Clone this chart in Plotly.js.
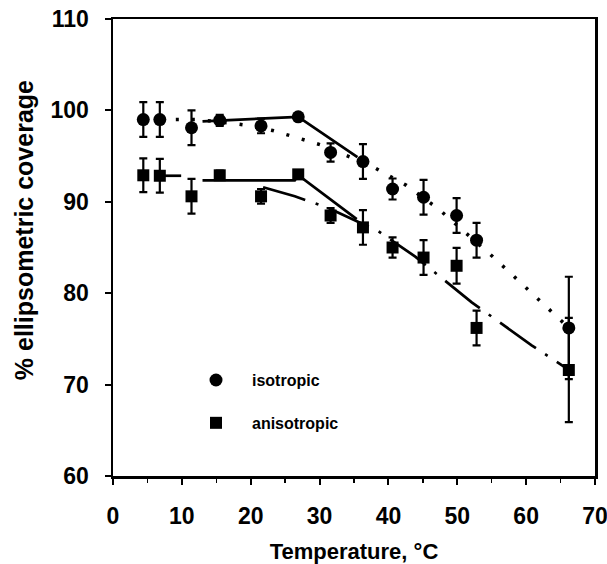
<!DOCTYPE html>
<html>
<head>
<meta charset="utf-8">
<script src="https://cdn.plot.ly/plotly-3.0.1.min.js"></script>
<style>html,body{margin:0;padding:0;background:#fff;}#chart{width:607px;height:564px;}</style>
</head>
<body>
<div id="chart"></div>
<script>
// Temperatures (°C)
const temps = [4.4, 6.8, 11.4, 15.5, 21.5, 26.9, 31.6, 36.3, 40.6, 45.1, 49.9, 52.8, 66.2];
// isotropic coverage (%) and error
const isoValues = [99.0, 99.0, 98.1, 98.9, 98.3, 99.3, 95.4, 94.4, 91.4, 90.5, 88.5, 85.8, 76.2];
const isoErrors = [1.9, 1.9, 1.9, 0.6, 0.8, 0, 1.0, 1.9, 1.15, 1.9, 1.9, 1.9, 5.6];
// anisotropic coverage (%) and error
const aniValues = [92.9, 92.85, 90.6, 92.9, 90.6, 93.0, 88.5, 87.2, 85.0, 83.9, 83.0, 76.2, 71.6];
const aniErrors = [1.85, 1.85, 1.9, 0.5, 0.8, 0, 0.8, 1.9, 1.1, 1.9, 1.95, 1.9, 5.7];

// fitted lines
const isoSolidT = [13.0, 26.9, 35.5];
const isoSolidV = [98.8, 99.3, 94.9];
const isoDotT = [6.8, 12.0, 17.2, 19.1, 23.2, 26.9, 30.3, 37.6, 42.6, 47.3, 55.3, 63.8, 66.2];
const isoDotV = [99.0, 99.0, 98.6, 98.4, 97.8, 97.0, 96.2, 93.9, 91.8, 89.2, 83.9, 77.9, 76.2];
const aniSolidT = [6.8, 9.9, null, 13.0, 26.4, 26.9, 35.4];
const aniSolidV = [92.85, 92.85, null, 92.35, 92.35, 92.9, 88.1];
const aniDashT = [21.8, 26.4, 31.0, 38.5, 43.9, 46.8, 52.1, 60.8, 66.2];
const aniDashV = [91.6, 90.6, 89.4, 86.8, 84.0, 82.2, 79.0, 74.3, 71.6];

const seriesNames = ['isotropic', 'anisotropic'];
const xTicks = [0, 10, 20, 30, 40, 50, 60, 70];
const yTicks = [60, 70, 80, 90, 100, 110];
const xTitle = 'Temperature, °C';
const yTitle = '% ellipsometric coverage';

const FONT = 'Liberation Sans, Arial, sans-serif';

const traces = [
  {x: isoDotT, y: isoDotV, mode: 'lines', showlegend: false, hoverinfo: 'skip',
   line: {color: '#000', width: 3.5, dash: '3px,13px'}},
  {x: isoSolidT, y: isoSolidV, mode: 'lines', showlegend: false, hoverinfo: 'skip',
   line: {color: '#000', width: 2.7}},
  {x: aniSolidT, y: aniSolidV, mode: 'lines', showlegend: false, hoverinfo: 'skip', connectgaps: false,
   line: {color: '#000', width: 2.7}},
  {x: aniDashT, y: aniDashV, mode: 'lines', showlegend: false, hoverinfo: 'skip',
   line: {color: '#000', width: 2.7, dash: '44px,11px,3px,11px'}},
  {x: temps, y: isoValues, name: seriesNames[0], mode: 'markers', legendgroup: 'a',
   marker: {symbol: 'circle', size: 13, color: '#000'},
   error_y: {type: 'data', array: isoErrors, visible: true, color: '#000', thickness: 2.2, width: 4}},
  {x: temps, y: aniValues, name: seriesNames[1], mode: 'markers', legendgroup: 'b',
   marker: {symbol: 'square', size: 12, color: '#000'},
   error_y: {type: 'data', array: aniErrors, visible: true, color: '#000', thickness: 2.2, width: 4}}
];

const layout = {
  width: 607, height: 564,
  margin: {l: 113, r: 12, t: 19, b: 88},
  paper_bgcolor: '#fff', plot_bgcolor: '#fff',
  font: {family: FONT, color: '#000'},
  showlegend: true,
  legend: {x: 0.139, y: 0.247, xanchor: 'left', yanchor: 'top', bgcolor: 'rgba(0,0,0,0)',
    font: {family: FONT, size: 16, color: '#000', weight: 'bold'},
    tracegroupgap: 19, itemwidth: 62, traceorder: 'grouped'},
  xaxis: {range: [0, 70], tickvals: xTicks, ticktext: xTicks.map(String),
    showgrid: false, zeroline: false, showline: true, linecolor: '#000', linewidth: 2.5, mirror: true,
    ticks: 'outside', ticklen: 6, tickwidth: 2, tickcolor: '#000', ticklabelstandoff: 12,
    ticklabeloverflow: 'allow',
    minor: {dtick: 5, ticks: 'outside', ticklen: 4, tickwidth: 1.5, tickcolor: '#000'},
    tickfont: {family: FONT, size: 23, weight: 'bold'},
    title: {text: xTitle, font: {family: FONT, size: 22, weight: 'bold'}, standoff: 16}},
  yaxis: {range: [60, 110], tickvals: yTicks, ticktext: yTicks.map(String),
    showgrid: false, zeroline: false, showline: true, linecolor: '#000', linewidth: 2.5, mirror: true,
    ticks: 'outside', ticklen: 6, tickwidth: 2, tickcolor: '#000', ticklabelstandoff: 11,
    tickfont: {family: FONT, size: 23, weight: 'bold'}},
  annotations: [
    {text: yTitle, xref: 'paper', yref: 'paper', x: -0.1846, y: 0.538,
     xanchor: 'center', yanchor: 'middle', textangle: -90, showarrow: false,
     font: {family: FONT, size: 25, weight: 'bold', color: '#000'}}
  ]
};

Plotly.newPlot('chart', traces, layout, {displayModeBar: false, staticPlot: true});
</script>
</body>
</html>
